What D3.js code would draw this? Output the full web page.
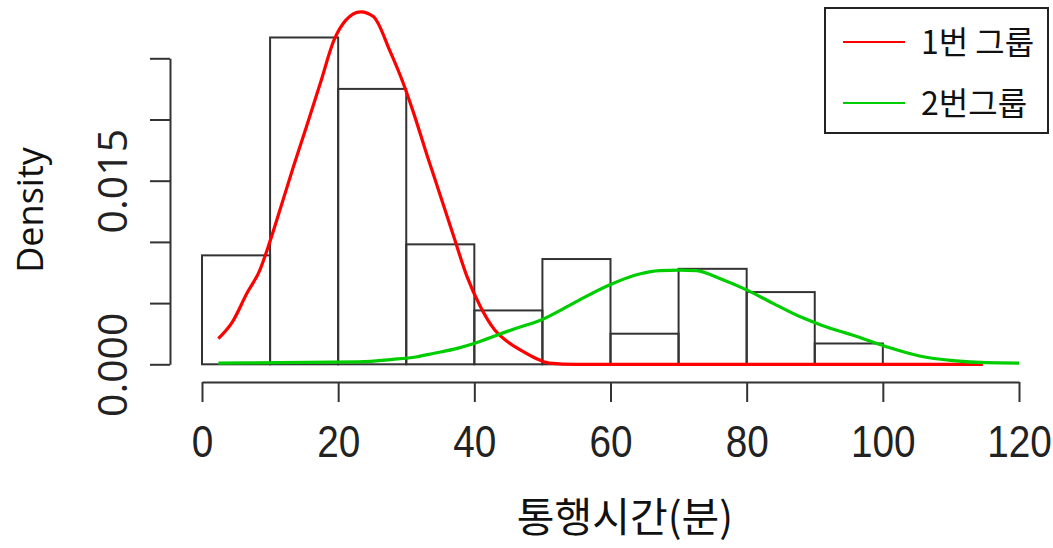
<!DOCTYPE html>
<html>
<head>
<meta charset="utf-8">
<script src="https://cdn.jsdelivr.net/npm/d3@7"></script>
<style>
  body { margin: 0; background: #fff; }
  svg { display: block; }
</style>
</head>
<body>
<div id="chart"></div>
<script>
// histogram bins (width 10) and their densities
const binStarts = [0, 10, 20, 30, 40, 50, 60, 70, 80, 90, 100, 110];
const binDensity = [0.0089, 0.0267, 0.0225, 0.0098, 0.0044, 0.0086, 0.0025, 0.0078, 0.0059, 0.0017, 0, 0];

// density curve, group 1
const redX = [2.4, 4.4, 6.6, 8.5, 9.9, 11.5, 13.4, 15.4, 17.4, 19.4, 21.1, 23.3, 25.2, 27.6, 29.6, 31.1, 33.1, 35, 37, 38.9, 40.9, 43, 45, 47, 49, 51, 55, 114.7];
const redY = [0.0021, 0.0034, 0.0058, 0.0077, 0.0099, 0.0127, 0.0161, 0.0195, 0.0230, 0.0265, 0.0281, 0.0288, 0.0284, 0.0256, 0.0229, 0.0205, 0.0170, 0.0138, 0.0104, 0.0072, 0.0047, 0.0028, 0.0018, 0.0011, 0.0005, 0.0001, 0, 0];

// density curve, group 2
const greenX = [2.4, 23, 28, 31.4, 34.1, 37.5, 40.5, 43.4, 46.5, 49.7, 54.6, 59.5, 64.4, 67.2, 70.2, 72.6, 76.5, 79.9, 83.8, 87.8, 91, 93.7, 95.5, 100.5, 105.4, 110.3, 115.2, 120];
const greenY = [0.0001, 0.0002, 0.0004, 0.0006, 0.0009, 0.0013, 0.0018, 0.0024, 0.0030, 0.0036, 0.0050, 0.0064, 0.0074, 0.00765, 0.0077, 0.00765, 0.0069, 0.0061, 0.0050, 0.0039, 0.0032, 0.0027, 0.0024, 0.00144, 0.00068, 0.0003, 0.00013, 0.0001];

const xTicks = [0, 20, 40, 60, 80, 100, 120];
const yTicks = [0, 0.005, 0.01, 0.015, 0.02, 0.025];
const yLabels = { 0: '0.000', 0.015: '0.015' };

const legendNames = ['1번 그룹', '2번그룹'];
const legendColors = ['#ff0000', '#00cd00'];

const width = 1053;
const height = 548;

const svg = d3.select('#chart')
  .append('svg')
  .attr('width', width)
  .attr('height', height);

const x = d3.scaleLinear([0, 120], [202, 1019]);
const y = d3.scaleLinear([0, 0.025], [364.3, 58.3]);

// bars
svg.append('g')
  .selectAll('rect')
  .data(binStarts)
  .enter()
  .append('rect')
  .attr('x', d => x(d))
  .attr('y', (d, i) => y(binDensity[i]))
  .attr('width', d => x(d + 10) - x(d))
  .attr('height', (d, i) => y(0) - y(binDensity[i]))
  .attr('fill', 'none')
  .attr('stroke', '#333')
  .attr('stroke-width', 2);

// y axis
const axisY = d3.axisLeft(y)
  .tickValues(yTicks)
  .tickSize(20)
  .tickSizeOuter(0)
  .tickFormat(d => yLabels[d] || '');

const gy = svg.append('g')
  .attr('transform', 'translate(170,0)')
  .call(axisY);
gy.select('.domain').attr('stroke', '#333').attr('stroke-width', 2);
gy.selectAll('.tick line').attr('stroke', '#333').attr('stroke-width', 2);
gy.selectAll('.tick text')
  .attr('x', 0).attr('y', 0).attr('dy', 0)
  .attr('transform', 'translate(-43,0) rotate(-90)')
  .attr('text-anchor', 'middle')
  .style('font-family', '"Open Sans", sans-serif')
  .style('font-size', '41px')
  .attr('fill', '#222');

// x axis
const axisX = d3.axisBottom(x)
  .tickValues(xTicks)
  .tickSize(20)
  .tickSizeOuter(0);

const gx = svg.append('g')
  .attr('transform', 'translate(0,382)')
  .call(axisX);
gx.select('.domain').attr('stroke', '#333').attr('stroke-width', 2);
gx.selectAll('.tick line').attr('stroke', '#333').attr('stroke-width', 2);
gx.selectAll('.tick text')
  .attr('y', 0).attr('dy', 0)
  .attr('transform', 'translate(0,75) scale(0.88,1)')
  .style('font-family', '"Liberation Sans", Arial, sans-serif')
  .style('font-size', '44px')
  .attr('fill', '#222');

// density curves
const line = d3.line()
  .x(d => x(d[0]))
  .y(d => y(d[1]))
  .curve(d3.curveMonotoneX);

svg.append('path')
  .datum(redX.map((v, i) => [v, redY[i]]))
  .attr('d', line)
  .attr('fill', 'none')
  .attr('stroke', legendColors[0])
  .attr('stroke-width', 3.2);

svg.append('path')
  .datum(greenX.map((v, i) => [v, greenY[i]]))
  .attr('d', line)
  .attr('fill', 'none')
  .attr('stroke', legendColors[1])
  .attr('stroke-width', 3.2);

// axis titles
svg.append('text')
  .attr('transform', 'translate(43,210) rotate(-90)')
  .attr('text-anchor', 'middle')
  .style('font-family', '"Open Sans", sans-serif')
  .style('font-size', '36px')
  .attr('fill', '#111')
  .text('Density');

svg.append('text')
  .attr('transform', 'translate(625,532)')
  .attr('text-anchor', 'middle')
  .style('font-family', '"Noto Sans CJK KR", sans-serif')
  .style('font-size', '41px')
  .attr('fill', '#111')
  .text('통행시간(분)');

// legend
const legend = svg.append('g');
legend.append('rect')
  .attr('x', 825)
  .attr('y', 8)
  .attr('width', 223)
  .attr('height', 125)
  .attr('fill', '#fff')
  .attr('stroke', '#222')
  .attr('stroke-width', 2);

const items = legend.selectAll('.item')
  .data(legendNames)
  .enter()
  .append('g')
  .attr('transform', (d, i) => `translate(0,${42 + i * 61})`);

items.append('line')
  .attr('x1', 843).attr('x2', 905)
  .attr('stroke', (d, i) => legendColors[i])
  .attr('stroke-width', 2);

items.append('text')
  .attr('x', 921)
  .attr('dy', '0.36em')
  .style('font-family', '"Noto Sans CJK KR", sans-serif')
  .style('font-size', '32px')
  .attr('fill', '#111')
  .text(d => d);
</script>
</body>
</html>
